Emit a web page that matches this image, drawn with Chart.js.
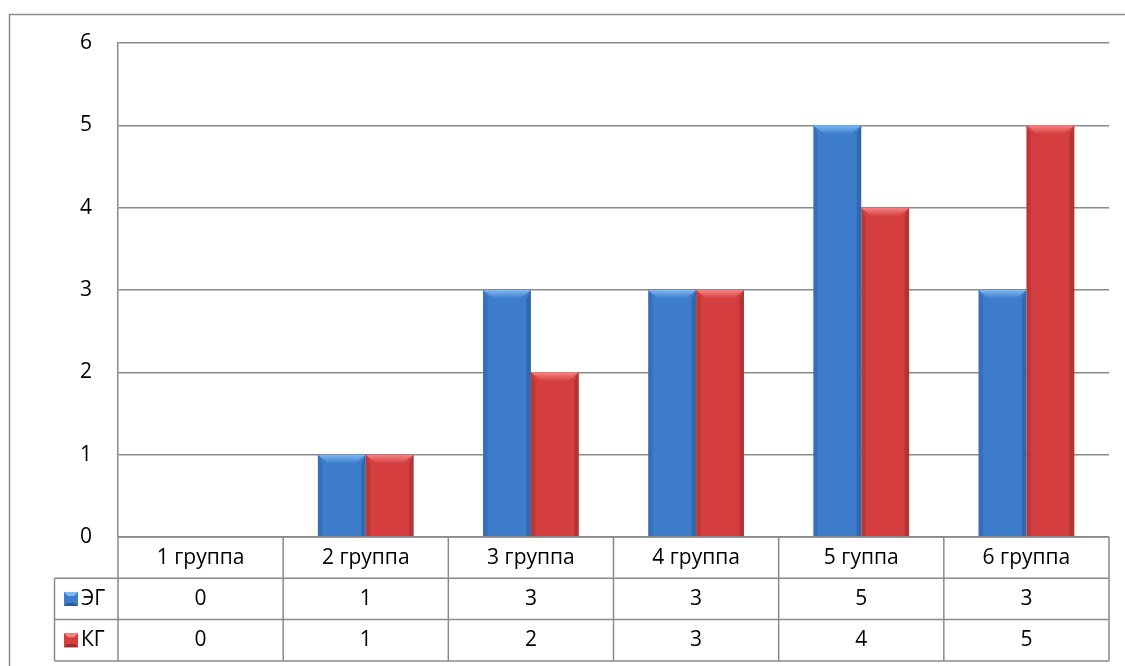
<!DOCTYPE html>
<html>
<head>
<meta charset="utf-8">
<script src="https://cdn.jsdelivr.net/npm/chart.js@4"></script>
<style>
  html, body { margin: 0; padding: 0; background: #ffffff; }
  #wrap { position: relative; width: 1125px; height: 666px; }
</style>
</head>
<body>
<div id="wrap"><canvas id="groupChart"></canvas></div>
<script>
// данные с картинки
const categories = ['1 группа', '2 группа', '3 группа', '4 группа', '5 гуппа', '6 группа'];
const seriesNames = ['ЭГ', 'КГ'];
const egValues = [0, 1, 3, 3, 5, 3];
const kgValues = [0, 1, 2, 3, 4, 5];
const yMin = 0, yMax = 6, yStep = 1;

const FONT = '"Open Sans", "Noto Sans", sans-serif';
const FONT_SIZE = 21;
const LINE = '#8a8a8a';

const palette = {
    blue: { dark: '#2b5b9a', mid: '#3d7ccb', light: '#80b8f2' },
    red:  { dark: '#a02a2a', mid: '#d43e3e', light: '#f78585' }
};

function barFill(c) {
    return function(context) {
        const el = context.element;
        if (!el || !el.width) return c.mid;
        const ctx = context.chart.ctx;
        const l = el.x - el.width / 2, r = el.x + el.width / 2;
        const g = ctx.createLinearGradient(l, 0, r, 0);
        g.addColorStop(0, c.dark);
        g.addColorStop(0.12, c.mid);
        g.addColorStop(0.85, c.mid);
        g.addColorStop(1, c.dark);
        return g;
    };
}

// рамка вокруг диаграммы
const framePlugin = {
    id: 'frame',
    beforeDraw(chart) {
        const ctx = chart.ctx;
        ctx.save();
        ctx.strokeStyle = LINE;
        ctx.lineWidth = 1.5;
        ctx.strokeRect(9.5, 14.5, 1300, 800);
        ctx.restore();
    }
};

// фаски на столбиках
const bevelPlugin = {
    id: 'bevel',
    afterDatasetsDraw(chart) {
        const ctx = chart.ctx;
        const cols = [palette.blue, palette.red];
        chart.data.datasets.forEach((ds, di) => {
            const meta = chart.getDatasetMeta(di);
            meta.data.forEach(el => {
                const p = el.getProps(['x', 'y', 'base', 'width'], true);
                const h = p.base - p.y;
                if (h < 1) return;
                const l = p.x - p.width / 2, r = p.x + p.width / 2;
                const t = p.y, b = p.base;
                const bv = Math.min(9, h / 2);
                ctx.save();
                // верхняя грань
                const g = ctx.createLinearGradient(0, t, 0, t + bv);
                g.addColorStop(0, cols[di].light);
                g.addColorStop(1, cols[di].mid);
                ctx.fillStyle = g;
                ctx.beginPath();
                ctx.moveTo(l, t); ctx.lineTo(r, t);
                ctx.lineTo(r - bv * 1.2, t + bv); ctx.lineTo(l + bv * 1.2, t + bv);
                ctx.closePath(); ctx.fill();
                // боковые грани
                ctx.fillStyle = 'rgba(0,0,0,0.10)';
                ctx.beginPath();
                ctx.moveTo(l, t); ctx.lineTo(l + bv * 0.5, t + bv);
                ctx.lineTo(l + bv * 0.5, b); ctx.lineTo(l, b);
                ctx.closePath(); ctx.fill();
                ctx.fillStyle = 'rgba(0,0,0,0.16)';
                ctx.beginPath();
                ctx.moveTo(r, t); ctx.lineTo(r - bv * 0.5, t + bv);
                ctx.lineTo(r - bv * 0.5, b); ctx.lineTo(r, b);
                ctx.closePath(); ctx.fill();
                ctx.restore();
            });
        });
    }
};

// таблица данных под осью X
const tablePlugin = {
    id: 'dataTable',
    afterDraw(chart) {
        const ctx = chart.ctx;
        const xs = chart.scales.x;
        const area = chart.chartArea;
        const rowH = 41.3;
        const keyLeft = 54.5;
        const top = area.bottom;
        const rows = [null].concat(chart.data.datasets);
        const cellW = (area.right - area.left) / categories.length;

        ctx.save();
        ctx.strokeStyle = LINE;
        ctx.lineWidth = 1.5;
        // горизонтальные линии
        for (let i = 0; i <= rows.length; i++) {
            const y = top + i * rowH;
            ctx.beginPath();
            ctx.moveTo(i === 0 ? area.left : keyLeft, y);
            ctx.lineTo(area.right, y);
            ctx.stroke();
        }
        // вертикальные линии
        const bottom = top + rows.length * rowH;
        for (let i = 0; i <= categories.length; i++) {
            const x = area.left + i * cellW;
            ctx.beginPath();
            ctx.moveTo(x, top); ctx.lineTo(x, bottom);
            ctx.stroke();
        }
        ctx.beginPath();
        ctx.moveTo(keyLeft, top + rowH); ctx.lineTo(keyLeft, bottom);
        ctx.stroke();

        ctx.fillStyle = '#000';
        ctx.font = FONT_SIZE + 'px ' + FONT;
        ctx.textAlign = 'center';
        ctx.textBaseline = 'middle';
        categories.forEach((c, i) => {
            const x = xs.getPixelForTick(i);
            ctx.fillText(c, x, top + rowH / 2);
        });
        chart.data.datasets.forEach((ds, di) => {
            const cy = top + (di + 1) * rowH + rowH / 2;
            ds.data.forEach((v, i) => {
                ctx.fillText(String(v), xs.getPixelForTick(i), cy);
            });
            // ключ легенды
            const c = di === 0 ? palette.blue : palette.red;
            const kx = 64, ks = 14, ky = cy - ks / 2;
            ctx.fillStyle = c.mid;
            ctx.fillRect(kx, ky, ks, ks);
            ctx.fillStyle = c.light;
            ctx.beginPath();
            ctx.moveTo(kx, ky); ctx.lineTo(kx + ks, ky);
            ctx.lineTo(kx + ks - 4, ky + 4); ctx.lineTo(kx + 4, ky + 4);
            ctx.closePath(); ctx.fill();
            ctx.fillStyle = c.dark;
            ctx.beginPath();
            ctx.moveTo(kx, ky + ks); ctx.lineTo(kx + ks, ky + ks);
            ctx.lineTo(kx + ks - 3, ky + ks - 3); ctx.lineTo(kx + 3, ky + ks - 3);
            ctx.closePath(); ctx.fill();
            ctx.fillStyle = '#000';
            ctx.textAlign = 'left';
            ctx.fillText(ds.label, kx + ks + 3, cy);
            ctx.textAlign = 'center';
        });
        ctx.restore();
    }
};

new Chart(document.getElementById('groupChart'), {
    type: 'bar',
    data: {
        labels: categories,
        datasets: [
            {
                label: seriesNames[0],
                data: egValues,
                backgroundColor: barFill(palette.blue),
                borderWidth: 0,
                categoryPercentage: 0.58,
                barPercentage: 1.0
            },
            {
                label: seriesNames[1],
                data: kgValues,
                backgroundColor: barFill(palette.red),
                borderWidth: 0,
                categoryPercentage: 0.58,
                barPercentage: 1.0
            }
        ]
    },
    options: {
        responsive: true,
        maintainAspectRatio: false,
        animation: false,
        layout: { padding: { left: 0, top: 43, right: 16, bottom: 129 } },
        plugins: {
            legend: { display: false },
            tooltip: { enabled: false }
        },
        scales: {
            x: {
                grid: { display: false, drawTicks: false },
                border: { display: false },
                ticks: { display: false }
            },
            y: {
                min: yMin,
                max: yMax,
                afterFit(scale) { scale.width = 118; },
                grid: { color: LINE, lineWidth: 1.5, drawTicks: false },
                border: { display: true, color: LINE, width: 1.5 },
                ticks: {
                    stepSize: yStep,
                    padding: 26,
                    color: '#000',
                    font: { family: FONT, size: FONT_SIZE }
                }
            }
        }
    },
    plugins: [framePlugin, bevelPlugin, tablePlugin]
});
</script>
</body>
</html>
